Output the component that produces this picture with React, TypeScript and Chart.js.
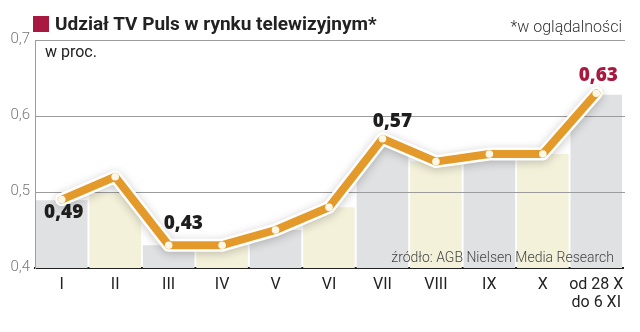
import React, { useEffect, useRef } from "react";
import { Chart, registerables } from "chart.js";

Chart.register(...registerables);

// ---- data ----
const categories: (string | string[])[] = ["I", "II", "III", "IV", "V", "VI", "VII", "VIII", "IX", "X", ["od 28 X", "do 6 XI"]];
const shareValues = [0.49, 0.52, 0.43, 0.43, 0.45, 0.48, 0.57, 0.54, 0.55, 0.55, 0.63];
const barValues = [0.489, 0.5, 0.43, 0.43, 0.45, 0.48, 0.565, 0.54, 0.55, 0.55, 0.628];
const yTickValues = [0.4, 0.5, 0.6, 0.7];
const labelledIndices = [0, 2, 6, 10];

const titleText = "Udział TV Puls w rynku telewizyjnym*";
const noteText = "*w oglądalności";
const unitText = "w proc.";
const sourceText = "źródło: AGB Nielsen Media Research";

// ---- style ----
const GRAY = "#e0e1e2";
const CREAM = "#f4f1da";
const ORANGE = "#e39a2b";
const RED = "#a9193f";
const FONT = "Roboto, 'Liberation Sans', sans-serif";

const labelPlacement: Record<number, { dx: number; dy: number; align: CanvasTextAlign; color: string }> = {
  0: { dx: 2, dy: 13, align: "center", color: "#1e1e1e" },
  2: { dx: -5, dy: -22, align: "left", color: "#1e1e1e" },
  6: { dx: 10, dy: -17, align: "center", color: "#1e1e1e" },
  10: { dx: 2, dy: -18, align: "center", color: RED },
};

const fmt = (v: number, d: number) => v.toFixed(d).replace(".", ",");

export default function App() {
  const canvasRef = useRef<HTMLCanvasElement | null>(null);

  useEffect(() => {
    const canvas = canvasRef.current;
    if (!canvas) return;

    const overlayPlugin = {
      id: "overlay",
      beforeDatasetDraw(chart: any, args: any) {
        const ctx = chart.ctx;
        if (args.index === 0) {
          // bars only show beneath the line
          const area = chart.chartArea;
          const pts = chart.getDatasetMeta(2).data;
          ctx.save();
          ctx.beginPath();
          ctx.moveTo(area.left, area.bottom + 2);
          ctx.lineTo(area.left, pts[0].y);
          pts.forEach((p: any) => ctx.lineTo(p.x, p.y));
          ctx.lineTo(area.right, pts[pts.length - 1].y);
          ctx.lineTo(area.right, area.bottom + 2);
          ctx.closePath();
          ctx.clip();
        }
        if (args.index === 1) {
          ctx.save();
          ctx.shadowColor = "rgba(0,0,0,0.22)";
          ctx.shadowBlur = 10;
          ctx.shadowOffsetY = 2;
        }
      },
      afterDatasetDraw(chart: any, args: any) {
        const ctx = chart.ctx;
        if (args.index === 1) {
          ctx.restore();
          return;
        }
        if (args.index !== 0) return;
        ctx.restore();
        const y = chart.scales.y;
        const area = chart.chartArea;
        ctx.save();
        ctx.strokeStyle = "#9c9c9c";
        ctx.lineWidth = 1;
        yTickValues.forEach((v) => {
          if (v <= 0.4) return;
          const py = Math.round(y.getPixelForValue(v)) + 0.5;
          ctx.beginPath();
          ctx.moveTo(area.left, py);
          ctx.lineTo(area.right + 2, py);
          ctx.stroke();
        });
        ctx.restore();
      },
      afterDatasetsDraw(chart: any) {
        const ctx = chart.ctx;
        const meta = chart.getDatasetMeta(2);
        ctx.save();
        ctx.font = `800 19px 'Open Sans', ${FONT}`;
        ctx.textBaseline = "middle";
        labelledIndices.forEach((i) => {
          const pt = meta.data[i];
          const p = labelPlacement[i];
          ctx.fillStyle = p.color;
          ctx.textAlign = p.align;
          ctx.fillText(fmt(shareValues[i], 2), pt.x + p.dx, pt.y + p.dy);
        });
        ctx.restore();
      },
    };

    const chart = new Chart(canvas, {
      type: "bar",
      data: {
        labels: categories as any,
        datasets: [
          {
            type: "bar",
            data: barValues,
            backgroundColor: barValues.map((_, i) => (i % 2 === 0 ? GRAY : CREAM)),
            barPercentage: 1,
            categoryPercentage: 0.965,
            borderWidth: 0,
            order: 3,
          } as any,
          {
            type: "line",
            data: shareValues,
            borderColor: "#ffffff",
            borderWidth: 13,
            borderJoinStyle: "round",
            borderCapStyle: "round",
            pointRadius: 0,
            tension: 0,
            order: 2,
          } as any,
          {
            type: "line",
            data: shareValues,
            borderColor: ORANGE,
            borderWidth: 8,
            borderJoinStyle: "round",
            borderCapStyle: "round",
            pointRadius: 3.8,
            pointBackgroundColor: "#fcf7e6",
            pointBorderWidth: 0,
            tension: 0,
            order: 1,
          } as any,
        ],
      },
      options: {
        animation: false,
        responsive: false,
        maintainAspectRatio: false,
        events: [],
        layout: { padding: { top: 40, right: 17, left: 0, bottom: 0 } },
        plugins: { legend: { display: false }, tooltip: { enabled: false } },
        scales: {
          x: {
            grid: { display: false, drawTicks: false },
            border: { display: true, color: "#222", width: 2 },
            ticks: {
              color: "#222",
              font: { family: FONT, size: 16, lineHeight: 1.125 },
              padding: 8,
              maxRotation: 0,
              autoSkip: false,
            },
            afterFit: (s: any) => {
              s.height = 64;
            },
          },
          y: {
            min: 0.4,
            max: 0.7,
            grid: { display: false, drawTicks: false },
            border: { display: true, color: "#9c9c9c", width: 1 },
            ticks: {
              stepSize: 0.1,
              color: "#777",
              font: { family: FONT, size: 15, weight: "300" as any },
              padding: 5,
              labelOffset: -1,
              callback: (v: any) => fmt(Number(v), 1),
            },
            afterFit: (s: any) => {
              s.width = 35;
            },
          },
        },
      },
      plugins: [overlayPlugin],
    });

    return () => chart.destroy();
  }, []);

  const text = (style: React.CSSProperties): React.CSSProperties => ({
    position: "absolute",
    whiteSpace: "nowrap",
    fontFamily: FONT,
    ...style,
  });

  return (
    <div style={{ position: "absolute", left: 0, top: 0, width: 640, height: 332, background: "#fff", overflow: "hidden" }}>
      <canvas ref={canvasRef} width={640} height={332} style={{ position: "absolute", left: 0, top: 0, width: 640, height: 332 }} />
      <div style={{ position: "absolute", left: 33, top: 16, width: 16, height: 16, background: RED }} />
      <div style={text({ left: 55, top: 12, lineHeight: "24px", fontSize: 19, fontWeight: 700, color: "#222" })}>{titleText}</div>
      <div style={text({ right: 18, top: 15, lineHeight: "24px", fontSize: 16, fontWeight: 300, color: "#333" })}>{noteText}</div>
      <div style={text({ left: 45, top: 42, lineHeight: "20px", fontSize: 16, color: "#222" })}>{unitText}</div>
      <div style={text({ right: 26, top: 247, lineHeight: "20px", fontSize: 14, fontWeight: 300, color: "#444" })}>{sourceText}</div>
    </div>
  );
}
